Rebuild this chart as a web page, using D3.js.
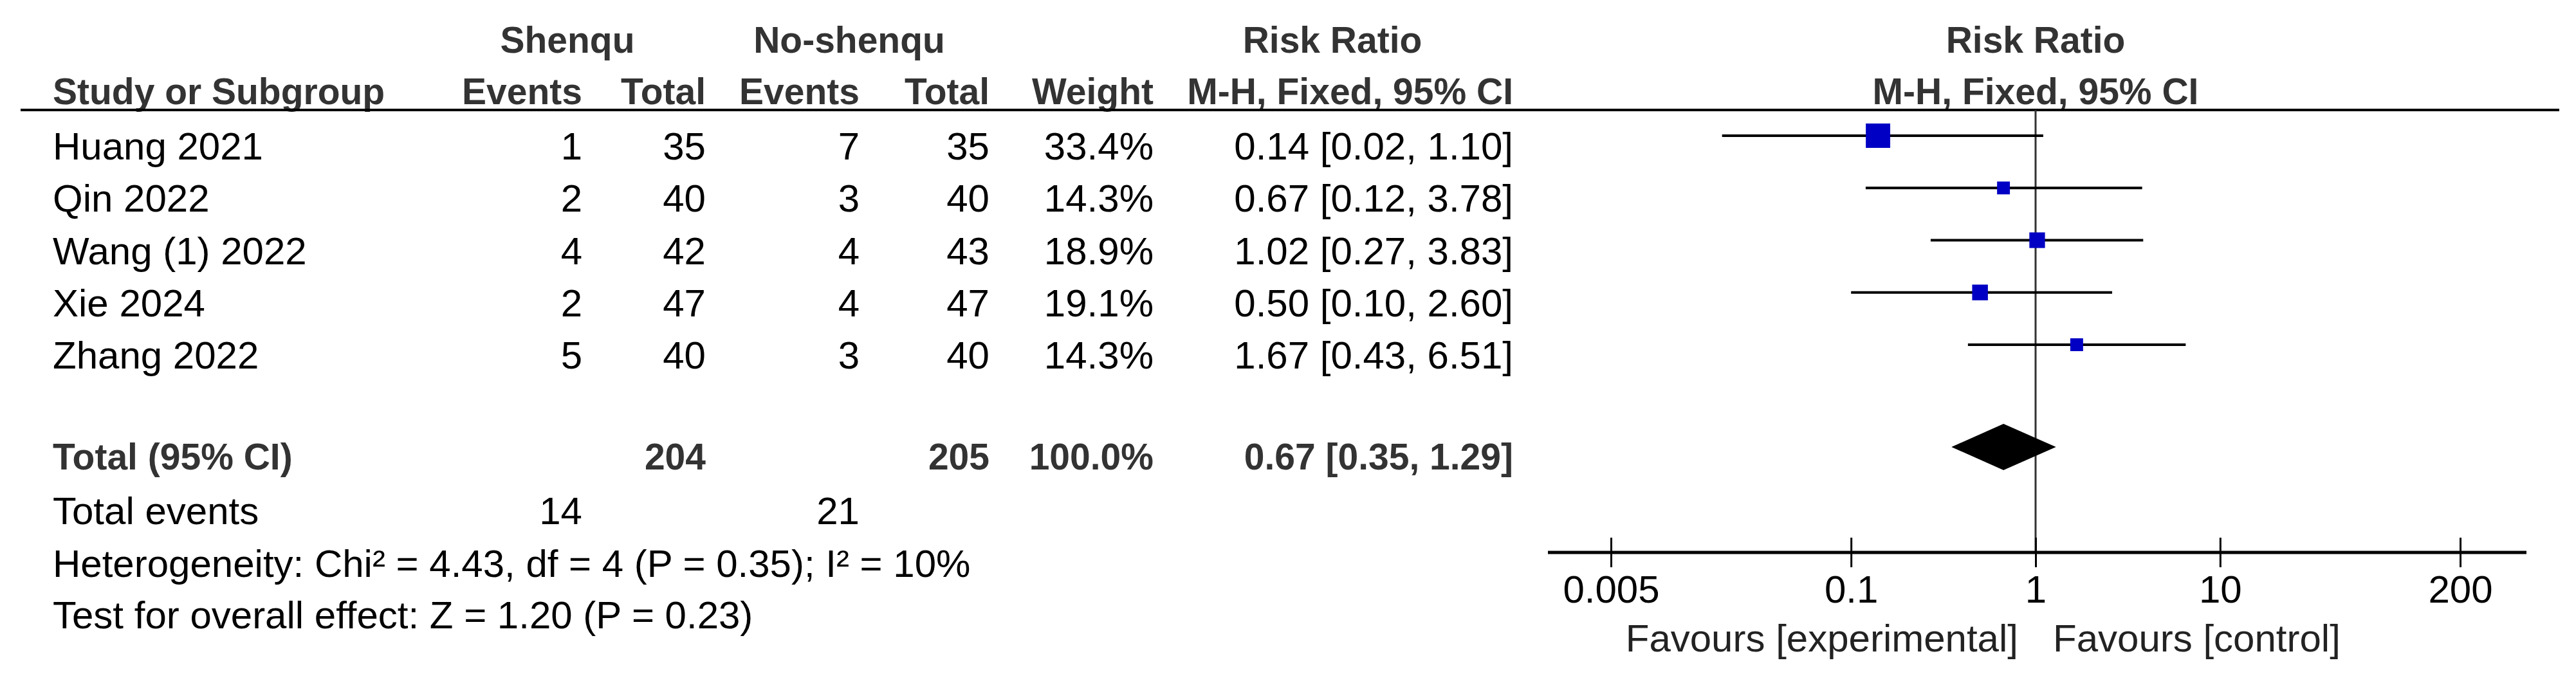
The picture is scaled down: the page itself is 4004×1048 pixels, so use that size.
<!DOCTYPE html>
<html>
<head>
<meta charset="utf-8">
<script src="https://cdn.jsdelivr.net/npm/d3@7/dist/d3.min.js"></script>
<style>
  html, body { margin: 0; padding: 0; background: #fff; }
  svg { display: block; }
  text { font-family: Arial, "Liberation Sans", sans-serif; }
</style>
</head>
<body>
<svg id="chart" width="4004" height="1048"></svg>
<script>
// ---- data ----
const studies     = ["Huang 2021", "Qin 2022", "Wang (1) 2022", "Xie 2024", "Zhang 2022"];
const expEvents   = [1, 2, 4, 2, 5];
const expTotal    = [35, 40, 42, 47, 40];
const ctrlEvents  = [7, 3, 4, 4, 3];
const ctrlTotal   = [35, 40, 43, 47, 40];
const weights     = [33.4, 14.3, 18.9, 19.1, 14.3];
const rr          = [0.14, 0.67, 1.02, 0.50, 1.67];
const rrLower     = [0.02, 0.12, 0.27, 0.10, 0.43];
const rrUpper     = [1.10, 3.78, 3.83, 2.60, 6.51];

const groupNames   = ["Shenqu", "No-shenqu"];
const totalN       = [204, 205];
const totalEvents  = [14, 21];
const pooled       = [0.67, 0.35, 1.29]; // estimate, lower, upper
const totalWeight  = 100.0;
const heterogeneityText = "Heterogeneity: Chi\u00B2 = 4.43, df = 4 (P = 0.35); I\u00B2 = 10%";
const overallText       = "Test for overall effect: Z = 1.20 (P = 0.23)";

const tickValues = [0.005, 0.1, 1, 10, 200];
const tickLabels = ["0.005", "0.1", "1", "10", "200"];
const favoursLabels = ["Favours [experimental]", "Favours [control]"];

// ---- layout ----
const svg = d3.select("#chart");
svg.append("rect").attr("width", 4004).attr("height", 1048).attr("fill", "#fff");

const FS = 60, FSB = 57;
const dark = "#333";

const x = d3.scaleLog().domain([0.005, 200]).range([2504, 3824]);
const rowY = d3.scaleLinear().domain([0, studies.length - 1]).range([248, 573]);
const sizeScale = d3.scaleLinear().domain([0, 100]).range([6.5, 100.5]);
const markerOffset = 37;

const cols = { name: 82, e1: 905, t1: 1097, e2: 1336, t2: 1538, w: 1793, ci: 2352 };

function txt(g, xx, yy, s, anchor, bold, color) {
  return g.append("text")
    .attr("x", xx).attr("y", yy)
    .attr("text-anchor", anchor || "start")
    .attr("font-size", bold ? FSB : FS)
    .attr("font-weight", bold ? "bold" : "normal")
    .attr("fill", color || "#000")
    .text(s);
}

const head = svg.append("g");
// group headers
txt(head, 882, 82, groupNames[0], "middle", true, dark);
txt(head, 1320, 82, groupNames[1], "middle", true, dark);
txt(head, 2071, 82, "Risk Ratio", "middle", true, dark);
txt(head, x(1), 82, "Risk Ratio", "middle", true, dark);
// column headers
txt(head, cols.name, 162, "Study or Subgroup", "start", true, dark);
txt(head, cols.e1, 162, "Events", "end", true, dark);
txt(head, cols.t1, 162, "Total", "end", true, dark);
txt(head, cols.e2, 162, "Events", "end", true, dark);
txt(head, cols.t2, 162, "Total", "end", true, dark);
txt(head, cols.w, 162, "Weight", "end", true, dark);
txt(head, cols.ci, 162, "M-H, Fixed, 95% CI", "end", true, dark);
txt(head, x(1), 162, "M-H, Fixed, 95% CI", "middle", true, dark);

// header rule
svg.append("line").attr("x1", 32).attr("x2", 3978).attr("y1", 171).attr("y2", 171)
  .attr("stroke", "#000").attr("stroke-width", 4);

// vertical line of no effect
const axisY = 859;
svg.append("line").attr("x1", x(1)).attr("x2", x(1)).attr("y1", 171).attr("y2", axisY)
  .attr("stroke", dark).attr("stroke-width", 3);

// study rows
const fmt2 = d3.format(".2f");
const fmtW = d3.format(".1f");
const rows = svg.append("g");
studies.forEach((s, i) => {
  const y = rowY(i);
  txt(rows, cols.name, y, s, "start");
  txt(rows, cols.e1, y, expEvents[i], "end");
  txt(rows, cols.t1, y, expTotal[i], "end");
  txt(rows, cols.e2, y, ctrlEvents[i], "end");
  txt(rows, cols.t2, y, ctrlTotal[i], "end");
  txt(rows, cols.w, y, fmtW(weights[i]) + "%", "end");
  txt(rows, cols.ci, y, `${fmt2(rr[i])} [${fmt2(rrLower[i])}, ${fmt2(rrUpper[i])}]`, "end");
});

// CI lines and squares
const plot = svg.append("g");
plot.selectAll("line.ci").data(studies).join("line")
  .attr("class", "ci")
  .attr("x1", (d, i) => x(rrLower[i]))
  .attr("x2", (d, i) => x(rrUpper[i]))
  .attr("y1", (d, i) => rowY(i) - markerOffset)
  .attr("y2", (d, i) => rowY(i) - markerOffset)
  .attr("stroke", "#000").attr("stroke-width", 4);
plot.selectAll("rect.sq").data(studies).join("rect")
  .attr("class", "sq")
  .attr("x", (d, i) => x(rr[i]) - sizeScale(weights[i]) / 2)
  .attr("y", (d, i) => rowY(i) - markerOffset - sizeScale(weights[i]) / 2)
  .attr("width", (d, i) => sizeScale(weights[i]))
  .attr("height", (d, i) => sizeScale(weights[i]))
  .attr("fill", "#0000C4");

// total row
const totY = 730;
txt(rows, cols.name, totY, "Total (95% CI)", "start", true, dark);
txt(rows, cols.t1, totY, totalN[0], "end", true, dark);
txt(rows, cols.t2, totY, totalN[1], "end", true, dark);
txt(rows, cols.w, totY, fmtW(totalWeight) + "%", "end", true, dark);
txt(rows, cols.ci, totY, `${fmt2(pooled[0])} [${fmt2(pooled[1])}, ${fmt2(pooled[2])}]`, "end", true, dark);

const dy = totY - 35, dh = 36;
plot.append("polygon")
  .attr("points", [
    [x(pooled[1]), dy], [x(pooled[0]), dy - dh], [x(pooled[2]), dy], [x(pooled[0]), dy + dh]
  ].map(p => p.join(",")).join(" "))
  .attr("fill", "#000");

// footer
txt(rows, cols.name, 815, "Total events", "start");
txt(rows, cols.e1, 815, totalEvents[0], "end");
txt(rows, cols.e2, 815, totalEvents[1], "end");
txt(rows, cols.name, 897, heterogeneityText, "start");
txt(rows, cols.name, 977, overallText, "start");

// axis
const axisG = svg.append("g").attr("transform", `translate(0,${axisY})`);
axisG.call(d3.axisBottom(x).tickValues(tickValues).tickSize(0).tickFormat((d, i) => tickLabels[i]));
axisG.select(".domain").remove();
axisG.selectAll(".tick text")
  .attr("y", 78).attr("dy", null)
  .attr("font-size", FS).attr("font-family", "Arial, 'Liberation Sans', sans-serif")
  .attr("fill", "#000");
axisG.selectAll(".tick").append("line")
  .attr("y1", -23).attr("y2", 23).attr("stroke", "#000").attr("stroke-width", 3);
axisG.append("line")
  .attr("x1", x.range()[0] - 98).attr("x2", x.range()[1] + 103)
  .attr("y1", 0).attr("y2", 0)
  .attr("stroke", "#000").attr("stroke-width", 5);

txt(svg, x(1) - 27, 1013, favoursLabels[0], "end", false, "#222");
txt(svg, x(1) + 27, 1013, favoursLabels[1], "start", false, "#222");
</script>
</body>
</html>
